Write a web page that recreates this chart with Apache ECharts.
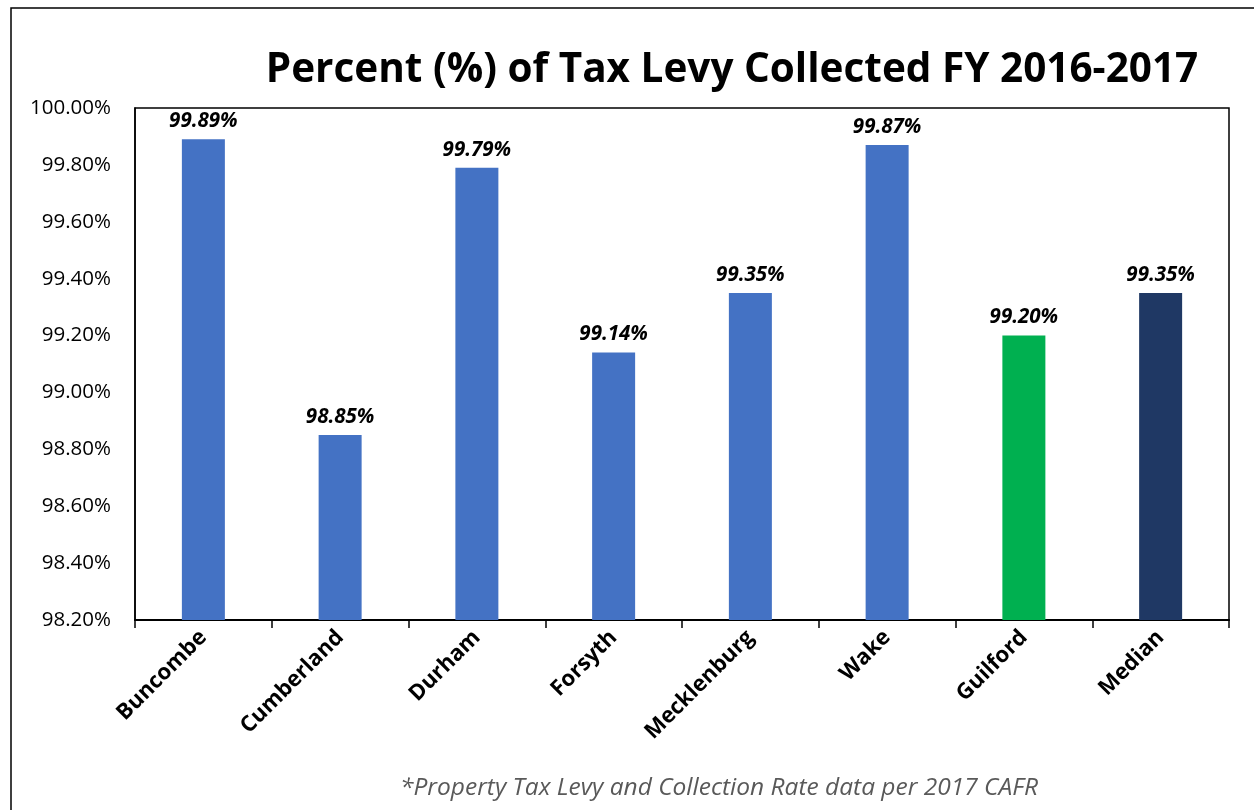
<!DOCTYPE html>
<html><head><meta charset="utf-8">
<script src="https://cdn.jsdelivr.net/npm/echarts@6/dist/echarts.min.js"></script>
<style>html,body{margin:0;padding:0;background:#fff}#c{width:1254px;height:810px}</style>
</head><body><div id="c"></div>
<script>
const categories = ['Buncombe','Cumberland','Durham','Forsyth','Mecklenburg','Wake','Guilford','Median'];
const values = [99.89, 98.85, 99.79, 99.14, 99.35, 99.87, 99.20, 99.35];
const barColors = ['#4472C4','#4472C4','#4472C4','#4472C4','#4472C4','#4472C4','#00B050','#1F3864'];
const yMin = 98.2, yMax = 100.0, yStep = 0.2;
const titleText = 'Percent (%) of Tax Levy Collected FY 2016-2017';
const footnote = '*Property Tax Levy and Collection Rate data per 2017 CAFR';

const chart = echarts.init(document.getElementById('c'));
const font = 'Open Sans';
chart.setOption({
  animation: false,
  backgroundColor: '#fff',
  title: {
    text: titleText, left: 727, top: 45, textAlign: 'center',
    textStyle: {fontFamily: font, fontWeight: 'bold', fontSize: 40.5, color: '#000'}
  },
  graphic: [
    {type: 'rect', shape: {x: 11, y: 8, width: 1300, height: 900}, style: {fill: 'none', stroke: '#000', lineWidth: 1.5}, silent: true},
    {type: 'text', x: 719, y: 788, style: {text: footnote, font: 'italic 24.5px "Open Sans"', fill: '#595959', align: 'center', verticalAlign: 'middle'}}
  ],
  grid: {left: 135, right: 25, top: 108, bottom: 190, show: true, borderColor: '#000', borderWidth: 1.5},
  xAxis: {
    type: 'category', data: categories,
    axisLine: {lineStyle: {color: '#000', width: 2}},
    axisTick: {show: true, length: 8, lineStyle: {color: '#000', width: 1.5}},
    axisLabel: {rotate: 45, fontFamily: font, fontWeight: 'bold', fontSize: 22, color: '#000', margin: 14}
  },
  yAxis: {
    type: 'value', min: yMin, max: yMax, interval: yStep,
    axisLine: {show: true, lineStyle: {color: '#000', width: 1.5}},
    axisTick: {show: false},
    splitLine: {show: false},
    axisLabel: {fontFamily: font, fontSize: 20.5, color: '#000', margin: 24,
      formatter: v => v.toFixed(2) + '%'}
  },
  series: [{
    type: 'bar', barWidth: 43,
    data: values.map((v, i) => ({value: v, itemStyle: {color: barColors[i]}})),
    label: {show: true, position: 'top', distance: 8, fontFamily: font, fontWeight: 'bold', fontStyle: 'italic', fontSize: 20.5, color: '#000',
      formatter: p => p.value.toFixed(2) + '%'}
  }]
});
</script></body></html>
